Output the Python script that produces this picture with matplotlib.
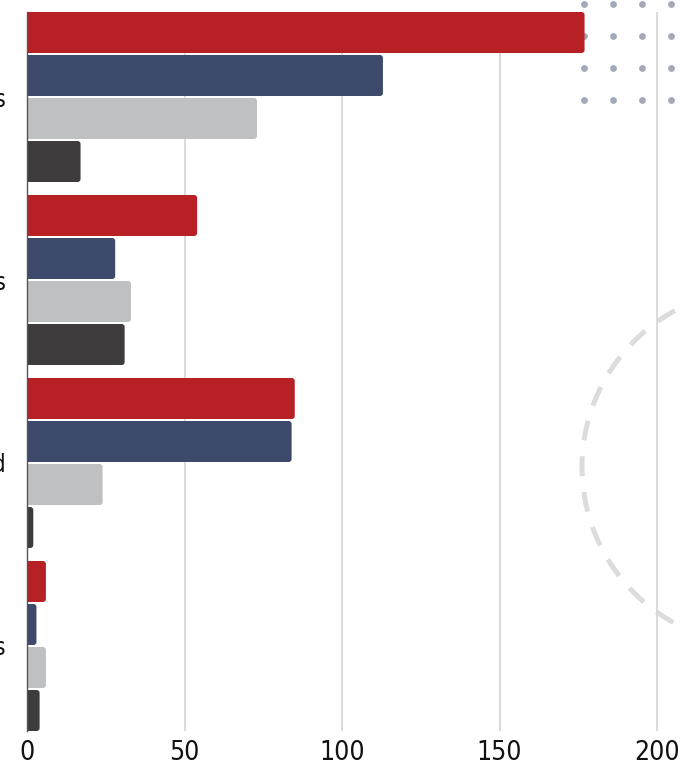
import matplotlib
matplotlib.use("Agg")
import matplotlib.pyplot as plt
from matplotlib.patches import FancyBboxPatch, Ellipse
import numpy as np

categories = ["Matches", "Wins", "Played", "Draws"]
series_names = ["Series A", "Series B", "Series C", "Series D"]
series_a = [177, 54, 85, 6]
series_b = [113, 28, 84, 3]
series_c = [73, 33, 24, 6]
series_d = [17, 31, 2, 4]
x_ticks = [0, 50, 100, 150, 200]

colors = ["#B72025", "#3E4A6B", "#BFC0C2", "#3D3B3C"]
series = [series_a, series_b, series_c, series_d]

W, H = 685, 768
fig = plt.figure(figsize=(W / 100, H / 100), dpi=100)
ax_left, ax_right = 27, 27 + 205 * 3.15
ax_top, ax_bot = 12, 731
ax = fig.add_axes([ax_left / W, 1 - ax_bot / H, (ax_right - ax_left) / W, (ax_bot - ax_top) / H])

pitch = 0.235
bar_h = 0.224
y = np.arange(len(categories))
offsets = (np.arange(4) - 1.5) * pitch

xlim = (0, 205)
ylim = (3 + 1.5 * pitch + bar_h / 2, -(1.5 * pitch + bar_h / 2))
ax.set_xlim(*xlim)
ax.set_ylim(*ylim)

px_per_x = (ax_right - ax_left) / (xlim[1] - xlim[0])
px_per_y = (ax_bot - ax_top) / abs(ylim[0] - ylim[1])
aspect = px_per_x / px_per_y
rad = 3 / px_per_x

for si, (vals, col) in enumerate(zip(series, colors)):
    bars = ax.barh(y + offsets[si], vals, height=bar_h, color=col, label=series_names[si])
    for b in bars:
        x0, y0 = b.get_x(), b.get_y()
        w, h = b.get_width(), b.get_height()
        b.set_visible(False)
        p = FancyBboxPatch((x0 - 3 * rad, y0), w + 3 * rad, h,
                           boxstyle=f"round,pad=0,rounding_size={rad}",
                           mutation_aspect=aspect, facecolor=col, edgecolor="none", zorder=2)
        ax.add_patch(p)

ax.set_axisbelow(True)
ax.xaxis.grid(True, color="#d8d8d8", linewidth=1.3)
ax.yaxis.grid(False)
ax.set_xticks(x_ticks)
ax.set_xticklabels([str(t) for t in x_ticks])
ax.set_yticks(y)
ax.set_yticklabels(categories)

for s in ["top", "right", "bottom"]:
    ax.spines[s].set_visible(False)
ax.spines["left"].set_color("#555555")
ax.spines["left"].set_linewidth(1.0)

ax.tick_params(axis="x", length=0, pad=6.5)
ax.tick_params(axis="y", length=0, pad=15)
for lab in ax.get_xticklabels():
    lab.set_fontsize(19)
    lab.set_fontstretch("condensed")
    lab.set_color("#111111")
for lab in ax.get_yticklabels():
    lab.set_fontsize(17)
    lab.set_fontstretch("condensed")
    lab.set_color("#111111")

# decorative dots
dot_x = [584, 613, 642, 671]
dot_y = [4, 36, 68, 100]
dx, dy = np.meshgrid(dot_x, dot_y)
ax.scatter(dx.ravel() / W, 1 - dy.ravel() / H, s=24, color="#A2A8B8",
           transform=fig.transFigure, clip_on=False, zorder=0.6, linewidths=0)

# decorative dashed circle
cx, cy, r = 760, 467, 178
circ = Ellipse((cx / W, 1 - cy / H), 2 * r / W, 2 * r / H, transform=fig.transFigure,
               fill=False, edgecolor="#DCDCDC", linewidth=3.6,
               linestyle=(0, (4, 3.2)), clip_on=False, zorder=0.4)
ax.add_artist(circ)

fig.savefig("out.png", dpi=100)
